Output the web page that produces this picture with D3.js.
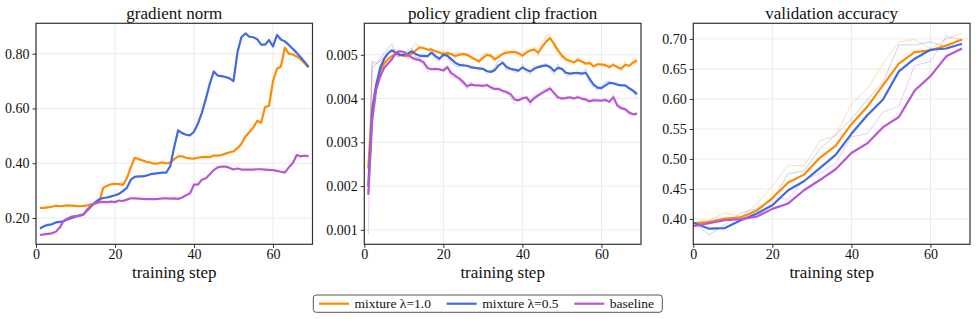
<!DOCTYPE html>
<html>
<head>
<meta charset="utf-8">
<script src="https://cdn.jsdelivr.net/npm/d3@7"></script>
<style>
  body { margin: 0; background: #fff; }
  text { font-family: "Liberation Serif", "Times New Roman", serif; fill: #111; }
</style>
</head>
<body>
<svg id="chart" width="976" height="319"></svg>
<script>
// series names + colours
const seriesNames = ["mixture \u03bb=1.0", "mixture \u03bb=0.5", "baseline"];
const seriesColors = ["#ff8c00", "#4169e1", "#ba55d3"];

// training steps 1..69 for the per-step metrics
const trainSteps = d3.range(1, 70);
const evalSteps = [0, 4, 8, 12, 16, 20, 24, 28, 32, 36, 40, 44, 48, 52, 56, 60, 64, 68];

const xTicks = [0, 20, 40, 60];
const gradTicks = [0.2, 0.4, 0.6, 0.8];
const clipTicks = [0.001, 0.002, 0.003, 0.004, 0.005];
const accTicks = [0.40, 0.45, 0.50, 0.55, 0.60, 0.65, 0.70];

// gradient norm (smoothed only)
const gradMix10 = [0.237,0.237,0.239,0.241,0.245,0.243,0.244,0.246,0.245,0.244,0.243,0.244,0.246,0.250,0.252,0.258,0.310,0.318,0.323,0.325,0.324,0.321,0.345,0.385,0.420,0.415,0.410,0.405,0.402,0.398,0.400,0.403,0.399,0.402,0.415,0.425,0.425,0.420,0.418,0.417,0.420,0.422,0.423,0.422,0.428,0.428,0.430,0.435,0.440,0.443,0.455,0.470,0.497,0.513,0.530,0.555,0.548,0.605,0.610,0.700,0.745,0.753,0.822,0.800,0.797,0.790,0.780,0.765,0.750];
const gradMix05 = [0.162,0.170,0.175,0.177,0.184,0.186,0.188,0.195,0.200,0.205,0.210,0.213,0.228,0.243,0.258,0.268,0.273,0.275,0.279,0.283,0.288,0.298,0.310,0.340,0.350,0.352,0.352,0.355,0.360,0.362,0.364,0.366,0.366,0.390,0.460,0.520,0.510,0.504,0.502,0.515,0.545,0.585,0.635,0.690,0.735,0.720,0.718,0.715,0.710,0.700,0.805,0.860,0.874,0.862,0.860,0.853,0.833,0.833,0.850,0.827,0.868,0.852,0.845,0.832,0.818,0.803,0.787,0.770,0.752];
const gradBase = [0.138,0.140,0.142,0.144,0.150,0.165,0.190,0.198,0.205,0.207,0.208,0.212,0.232,0.245,0.255,0.258,0.259,0.258,0.260,0.258,0.264,0.262,0.267,0.272,0.272,0.271,0.270,0.269,0.269,0.269,0.270,0.272,0.272,0.271,0.272,0.270,0.275,0.283,0.290,0.322,0.322,0.340,0.345,0.360,0.375,0.385,0.388,0.388,0.383,0.377,0.381,0.377,0.377,0.377,0.377,0.378,0.378,0.377,0.376,0.375,0.372,0.369,0.366,0.385,0.400,0.430,0.425,0.428,0.425];

// policy gradient clip fraction: raw + smoothed
const clipRawMix10 = [0.0024,0.0048,0.00478,0.00485,0.00495,0.00505,0.00508,0.00498,0.00495,0.00505,0.00492,0.00512,0.00528,0.00515,0.0052,0.00508,0.00515,0.00503,0.00508,0.00495,0.0051,0.00498,0.00492,0.00508,0.00497,0.00504,0.00488,0.00492,0.0048,0.00502,0.00505,0.00492,0.00486,0.00502,0.00506,0.0051,0.00502,0.00512,0.00498,0.00494,0.00512,0.00508,0.00518,0.00498,0.00528,0.00545,0.00545,0.0052,0.00502,0.00492,0.00485,0.00492,0.00478,0.00495,0.0048,0.00477,0.00488,0.00468,0.00482,0.00473,0.00482,0.00466,0.00482,0.00468,0.00464,0.00485,0.00472,0.00488,0.0049];
const clipRawMix05 = [0.0020,0.00485,0.00482,0.0049,0.00505,0.00515,0.00525,0.00498,0.00495,0.00505,0.0051,0.00515,0.00495,0.00492,0.00502,0.00494,0.00515,0.0049,0.00486,0.00508,0.00495,0.00482,0.00475,0.00472,0.0048,0.00472,0.00468,0.00472,0.00466,0.00468,0.00458,0.0046,0.00472,0.00488,0.00484,0.00465,0.00468,0.0046,0.00462,0.00478,0.0046,0.00456,0.00475,0.00472,0.00478,0.0048,0.00465,0.00455,0.00478,0.00465,0.00452,0.00455,0.0046,0.00455,0.00454,0.00468,0.00435,0.00425,0.0042,0.00428,0.00438,0.0044,0.00432,0.0043,0.00432,0.00428,0.0042,0.00415,0.00402];
const clipRawBase = [0.0009,0.0047,0.0048,0.00485,0.00495,0.0051,0.0051,0.00512,0.00508,0.00502,0.00492,0.0049,0.00488,0.00486,0.00475,0.00462,0.00468,0.0047,0.00462,0.00468,0.00475,0.00448,0.00448,0.0044,0.00432,0.00422,0.00438,0.00428,0.00432,0.00425,0.00434,0.0042,0.0042,0.00425,0.00412,0.00412,0.00402,0.00388,0.00398,0.00405,0.00398,0.00385,0.00408,0.0041,0.00418,0.00422,0.00428,0.00405,0.004,0.00398,0.00405,0.00402,0.00398,0.00408,0.00396,0.00396,0.0039,0.004,0.00392,0.00398,0.00395,0.0039,0.00408,0.00378,0.00375,0.00374,0.00362,0.00365,0.00368];
const clipMix10 = [0.0024,0.0038,0.0043,0.00462,0.0048,0.0049,0.00497,0.00502,0.005,0.00497,0.00498,0.00502,0.0051,0.00517,0.00515,0.00512,0.00512,0.00508,0.00505,0.00502,0.00504,0.00502,0.00497,0.005,0.00502,0.005,0.00495,0.0049,0.00485,0.00493,0.005,0.00498,0.0049,0.00495,0.00502,0.00505,0.00506,0.00506,0.00504,0.00498,0.00505,0.0051,0.00512,0.00505,0.00518,0.0053,0.00538,0.00525,0.0051,0.00498,0.0049,0.00486,0.00483,0.00488,0.00485,0.0048,0.00481,0.00474,0.00478,0.00478,0.00476,0.00472,0.00477,0.00472,0.00468,0.00477,0.00475,0.00482,0.00487];
const clipMix05 = [0.0020,0.0037,0.0043,0.0047,0.0049,0.00503,0.0051,0.00505,0.005,0.005,0.00503,0.00508,0.00502,0.00498,0.00497,0.00497,0.00505,0.00497,0.00491,0.005,0.00498,0.0049,0.00482,0.00477,0.00476,0.00475,0.00472,0.0047,0.00469,0.00468,0.00463,0.00461,0.00465,0.00476,0.00482,0.00472,0.00468,0.00466,0.00464,0.00471,0.00466,0.00462,0.00468,0.00472,0.00474,0.00476,0.00472,0.00463,0.0047,0.00468,0.00459,0.00457,0.00458,0.00459,0.00457,0.00459,0.00445,0.00432,0.00425,0.00424,0.0043,0.00436,0.00435,0.00432,0.0043,0.0043,0.00424,0.00418,0.0041];
const clipBase = [0.0018,0.0035,0.0042,0.0045,0.0047,0.0048,0.0049,0.00505,0.00508,0.00507,0.005,0.00494,0.0049,0.00488,0.00483,0.0047,0.00467,0.00468,0.00467,0.00464,0.00472,0.00458,0.00452,0.00446,0.00438,0.00428,0.00432,0.0043,0.0043,0.00429,0.00431,0.00426,0.00422,0.00422,0.00418,0.00415,0.0041,0.00398,0.00396,0.004,0.00403,0.00392,0.00401,0.00407,0.00413,0.00418,0.00423,0.00413,0.00403,0.004,0.00401,0.00403,0.004,0.00403,0.004,0.00398,0.00394,0.00396,0.00396,0.00395,0.00397,0.00393,0.00403,0.00385,0.00378,0.00376,0.00368,0.00364,0.00365];

// validation accuracy: raw + smoothed, every 4 steps
const accRawMix10 = [0.394,0.398,0.410,0.404,0.425,0.455,0.490,0.488,0.530,0.539,0.591,0.617,0.659,0.695,0.699,0.684,0.700,0.709];
const accRawMix05 = [0.394,0.374,0.391,0.410,0.417,0.431,0.476,0.480,0.517,0.540,0.567,0.599,0.628,0.690,0.690,0.695,0.687,0.699];
const accRawBase = [0.388,0.397,0.400,0.403,0.410,0.436,0.433,0.465,0.476,0.493,0.537,0.542,0.578,0.588,0.656,0.662,0.704,0.699];
const accMix10 = [0.393,0.395,0.401,0.403,0.414,0.435,0.461,0.474,0.502,0.522,0.558,0.587,0.623,0.659,0.678,0.681,0.689,0.699];
const accMix05 = [0.394,0.384,0.385,0.398,0.409,0.423,0.448,0.463,0.485,0.507,0.542,0.573,0.599,0.646,0.667,0.682,0.684,0.692];
const accBase = [0.388,0.393,0.398,0.400,0.404,0.417,0.426,0.448,0.465,0.483,0.510,0.526,0.553,0.570,0.614,0.638,0.671,0.684];

const svg = d3.select("#chart");
const plotTop = 23.3, plotBottom = 244.3;

const panels = [
  { title: "gradient norm", left: 36, right: 312.5, steps: trainSteps,
    yDomain: [0.104, 0.911], yTicks: gradTicks, fmt: d3.format(".2f"),
    raw: null, smooth: [gradMix10, gradMix05, gradBase] },
  { title: "policy gradient clip fraction", left: 364.3, right: 641, steps: trainSteps,
    yDomain: [0.00067, 0.00572], yTicks: clipTicks, fmt: d3.format(".3f"),
    raw: [clipRawMix10, clipRawMix05, clipRawBase], smooth: [clipMix10, clipMix05, clipBase] },
  { title: "validation accuracy", left: 693.3, right: 970, steps: evalSteps,
    yDomain: [0.358, 0.726], yTicks: accTicks, fmt: d3.format(".2f"),
    raw: [accRawMix10, accRawMix05, accRawBase], smooth: [accMix10, accMix05, accBase] }
];

panels.forEach(p => {
  const x = d3.scaleLinear().domain([0, 70]).range([p.left, p.right]);
  const y = d3.scaleLinear().domain(p.yDomain).range([plotBottom, plotTop]);
  const g = svg.append("g");

  // grid
  g.selectAll(".gx").data(xTicks).enter().append("line")
    .attr("x1", d => x(d)).attr("x2", d => x(d))
    .attr("y1", plotTop).attr("y2", plotBottom)
    .attr("stroke", "#ebebeb").attr("stroke-width", 1);
  g.selectAll(".gy").data(p.yTicks).enter().append("line")
    .attr("x1", p.left).attr("x2", p.right)
    .attr("y1", d => y(d)).attr("y2", d => y(d))
    .attr("stroke", "#ebebeb").attr("stroke-width", 1);

  const line = d3.line().x((d, i) => x(p.steps[i])).y(d => y(d));

  // faint raw curves
  if (p.raw) {
    p.raw.forEach((s, k) => {
      g.append("path").datum(s).attr("d", line)
        .attr("fill", "none").attr("stroke", seriesColors[k])
        .attr("stroke-width", 1).attr("stroke-opacity", 0.3);
    });
  }
  // smoothed curves
  p.smooth.forEach((s, k) => {
    g.append("path").datum(s).attr("d", line)
      .attr("fill", "none").attr("stroke", seriesColors[k])
      .attr("stroke-width", 2.2).attr("stroke-linejoin", "round");
  });

  // axes
  const xAxis = g.append("g").attr("transform", `translate(0,${plotBottom})`)
    .call(d3.axisBottom(x).tickValues(xTicks).tickSize(3.5).tickPadding(1.5).tickFormat(d3.format("d")));
  const yAxis = g.append("g").attr("transform", `translate(${p.left},0)`)
    .call(d3.axisLeft(y).tickValues(p.yTicks).tickSize(3.5).tickPadding(3).tickFormat(p.fmt));
  [xAxis, yAxis].forEach(a => {
    a.select(".domain").remove();
    a.selectAll(".tick line").attr("stroke", "#333");
    a.selectAll(".tick text").style("font-size", "14px").attr("fill", "#111")
      .style("font-family", '"Liberation Serif", "Times New Roman", serif');
  });

  // frame
  g.append("rect").attr("x", p.left).attr("y", plotTop)
    .attr("width", p.right - p.left).attr("height", plotBottom - plotTop)
    .attr("fill", "none").attr("stroke", "#333").attr("stroke-width", 1.2);

  g.append("text").attr("x", (p.left + p.right) / 2).attr("y", 18.5)
    .attr("text-anchor", "middle").style("font-size", "17px").text(p.title);
  g.append("text").attr("x", (p.left + p.right) / 2).attr("y", 278)
    .attr("text-anchor", "middle").style("font-size", "17px").text("training step");
});

// legend
const leg = svg.append("g");
leg.append("rect").attr("x", 313.3).attr("y", 295).attr("width", 349).attr("height", 17.3)
  .attr("rx", 3).attr("fill", "#fff").attr("stroke", "#555").attr("stroke-width", 1);
const legX = [319, 446.7, 574.3];
seriesNames.forEach((n, k) => {
  leg.append("line").attr("x1", legX[k]).attr("x2", legX[k] + 30)
    .attr("y1", 303.7).attr("y2", 303.7)
    .attr("stroke", seriesColors[k]).attr("stroke-width", 2.2);
  leg.append("text").attr("x", legX[k] + 35.5).attr("y", 308.3)
    .style("font-size", "13.5px").text(n);
});
</script>
</body>
</html>
